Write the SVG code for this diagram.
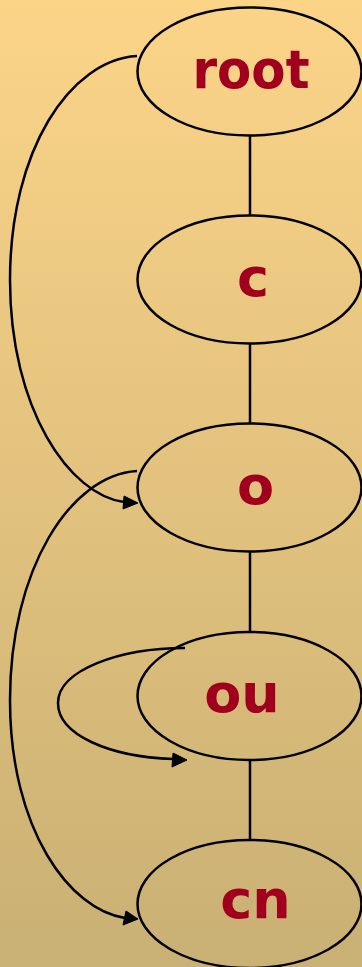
<svg xmlns="http://www.w3.org/2000/svg" width="362" height="967" viewBox="0 0 362 967">
<defs>
<linearGradient id="bg" x1="0" y1="0" x2="0" y2="1">
<stop offset="0" stop-color="#fbd488"/>
<stop offset="1" stop-color="#c9b074"/>
</linearGradient>
<style>
.node ellipse{fill:none;stroke:#000;stroke-width:2.5}
.node text{font-family:"DejaVu Sans",sans-serif;font-weight:bold;font-size:54px;fill:#a0001e;text-anchor:middle}
.edge path{fill:none;stroke:#000;stroke-width:2.5}
.edge polygon{fill:#000;stroke:#000;stroke-width:1}
</style>
</defs>
<rect width="362" height="967" fill="url(#bg)"/>
<g id="connectors" class="edge">
<path d="M250,135V216"/>
<path d="M250,343V424"/>
<path d="M250,551V632"/>
<path d="M250,760V840"/>
<path d="M137,56C70,60 10,150 10,280C10,410 70,495 124,502"/>
<polygon points="138,503 124,496 123,509"/>
<path d="M137,471C70,475 10,570 10,700C10,830 70,910 125,918"/>
<polygon points="138,919 126,911 123,925"/>
<path d="M185,648C120,648 58,670 58,703C58,735 110,757 173,759"/>
<polygon points="187,760 173,753 172,767"/>
</g>
<g id="root" class="node"><ellipse cx="249.5" cy="71.5" rx="112" ry="64"/><text x="251" y="88" textLength="117" lengthAdjust="spacingAndGlyphs">root</text></g>
<g id="c" class="node"><ellipse cx="249.5" cy="279.5" rx="112" ry="64"/><text x="253" y="296">c</text></g>
<g id="o" class="node"><ellipse cx="249.5" cy="487.5" rx="112" ry="64"/><text x="255.5" y="504">o</text></g>
<g id="ou" class="node"><ellipse cx="249.5" cy="696" rx="112" ry="64"/><text x="242" y="712">ou</text></g>
<g id="cn" class="node"><ellipse cx="249.5" cy="904" rx="112" ry="64"/><text x="255.5" y="918">cn</text></g>
</svg>
